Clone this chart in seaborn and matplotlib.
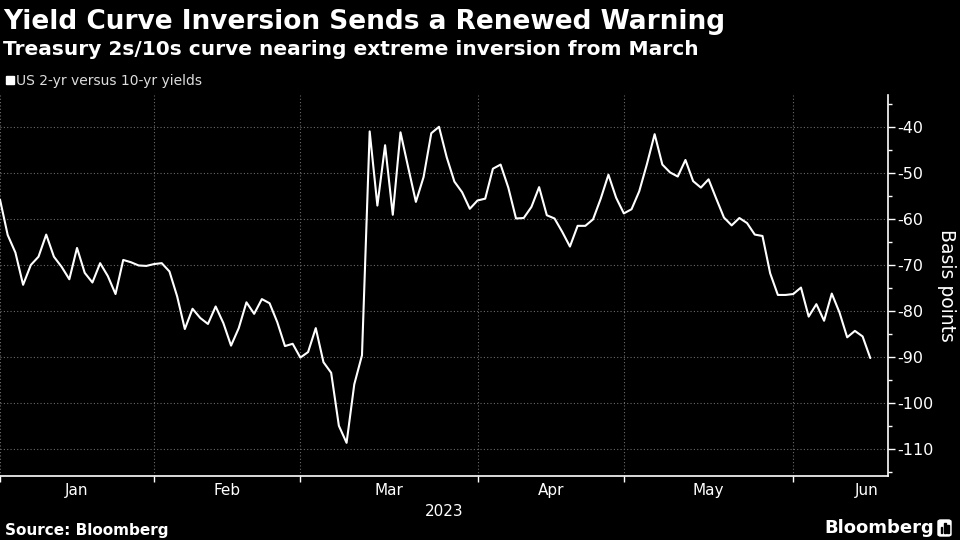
import matplotlib
matplotlib.use("Agg")
import matplotlib.pyplot as plt
from matplotlib.lines import Line2D
from matplotlib.patches import FancyBboxPatch, Rectangle
from matplotlib.ticker import MultipleLocator, FixedLocator, NullFormatter
import numpy as np
import pandas as pd
import seaborn as sns

# Datos: spread 2s/10s (pb), un valor por día hábil desde el 3 de enero de 2023
spread_bp = [
    # enero
    -55.8, -63.5, -67.3, -74.3, -70.0, -68.2, -63.4, -68.2, -70.4, -73.1,
    -66.3, -71.7, -73.8, -69.6, -72.4, -76.3, -68.9, -69.4, -70.1, -70.2,
    # febrero
    -69.8, -69.6, -71.4, -76.8, -83.9, -79.5, -81.5, -82.8, -79.0, -82.6,
    -87.5, -83.7, -78.1, -80.6, -77.4, -78.3, -82.4, -87.6, -87.1,
    # marzo
    -90.1, -88.9, -83.7, -91.1, -93.4, -104.9, -108.6, -95.9, -89.6, -41.0,
    -57.1, -44.0, -59.1, -41.2, -48.8, -56.3, -50.9, -41.4, -40.0, -46.6,
    -51.9, -54.2, -57.8,
    # abril
    -56.0, -55.6, -49.1, -48.2, -53.2, -59.9, -59.8, -57.4, -53.1, -59.2,
    -59.9, -62.8, -66.0, -61.5, -61.5, -60.1, -55.6, -50.4, -55.4,
    # mayo
    -58.8, -57.9, -54.0, -48.1, -41.6, -48.2, -49.9, -50.8, -47.2, -51.8,
    -53.2, -51.4, -55.6, -59.7, -61.4, -59.8, -60.9, -63.4, -63.7, -71.8,
    -76.5, -76.5,
    # junio
    -76.3, -74.9, -81.2, -78.5, -82.1, -76.2, -80.3, -85.7, -84.3, -85.5,
    -90.2,
]
holidays = ["2023-01-02", "2023-01-16", "2023-02-20", "2023-04-07",
            "2023-05-29", "2023-06-19"]
month_labels = ["Jan", "Feb", "Mar", "Apr", "May", "Jun"]
y_ticks = [-110, -100, -90, -80, -70, -60, -50, -40]

title = "Yield Curve Inversion Sends a Renewed Warning"
subtitle = "Treasury 2s/10s curve nearing extreme inversion from March"
series_name = "US 2-yr versus 10-yr yields"

# Días hábiles (eje x por índice de sesión, como en Bloomberg)
all_days = pd.bdate_range("2023-01-03", "2023-06-30", freq="C", holidays=holidays)
df = pd.DataFrame({"date": all_days[:len(spread_bp)], "bp": spread_bp})
df["pos"] = np.arange(len(df))

month_of_day = all_days.month
month_start = [int(np.argmax(month_of_day == m)) for m in range(1, 7)]
month_end = month_start[1:] + [len(all_days)]
month_mid = [(a + b) / 2 for a, b in zip(month_start, month_end)]
month_mid[-1] -= 1  # Bloomberg corre un poco la última etiqueta

## Estilo
sns.set_theme(style="dark", rc={
    "axes.facecolor": "black", "figure.facecolor": "black",
    "text.color": "white", "axes.labelcolor": "white",
    "xtick.color": "white", "ytick.color": "white",
})
plt.rcParams["font.family"] = ["DejaVu Sans"]

fig = plt.figure(figsize=(9.6, 5.4), dpi=100)
ax = fig.add_axes([0, 64 / 540, 888 / 960, 381 / 540])

sns.lineplot(data=df, x="pos", y="bp", ax=ax, color="white", linewidth=1.5)

ax.set_xlim(0, len(df) + 1.3)
ax.set_ylim(-115.8, -33.1)

# Eje y a la derecha
ax.yaxis.tick_right()
ax.yaxis.set_label_position("right")
ax.set_yticks(y_ticks)
ax.set_yticklabels([str(v) for v in y_ticks])
ax.yaxis.set_minor_locator(MultipleLocator(5))
ax.tick_params(axis="y", which="major", length=5, width=1, pad=2, labelsize=11.5,
               right=True, left=False)
ax.tick_params(axis="y", which="minor", length=3, width=1, right=True, left=False)
ax.set_ylabel("Basis points", fontsize=13.5, rotation=-90, labelpad=16)

# Eje x: ticks en el inicio de cada mes, etiquetas al centro
ax.xaxis.set_major_locator(FixedLocator(month_start))
ax.xaxis.set_major_formatter(NullFormatter())
ax.xaxis.set_minor_locator(FixedLocator(month_mid))
ax.set_xticklabels(month_labels, minor=True)
ax.tick_params(axis="x", which="major", length=4, width=1, bottom=True)
ax.tick_params(axis="x", which="minor", length=0, pad=5, labelsize=11)
ax.set_xlabel("2023", fontsize=11, labelpad=4)

ax.grid(True, which="major", color="#6a6a6a", linestyle=(0, (1, 2)), linewidth=0.8)
ax.grid(False, which="minor")

for side in ["top", "left"]:
    ax.spines[side].set_visible(False)
for side in ["bottom", "right"]:
    ax.spines[side].set_visible(True)
    ax.spines[side].set_color("white")
    ax.spines[side].set_linewidth(1.2)

# Títulos
fig.text(3 / 960, 1 - 29 / 540, title, fontsize=19, fontweight="bold",
         color="white", va="baseline", ha="left")
fig.text(3 / 960, 1 - 55 / 540, subtitle, fontsize=14.5, fontweight="bold",
         color="white", va="baseline", ha="left")

# Leyenda
handle = Line2D([], [], marker="s", linestyle="none", color="white", markersize=5.5)
fig.legend([handle], [series_name], loc="center left",
           bbox_to_anchor=(-6 / 960, 1 - 81 / 540), frameon=False,
           handlelength=0.5, handletextpad=0.2, fontsize=10, labelcolor="#dddddd")

# Pie
fig.text(5 / 960, 1 - 530 / 540, "Source: Bloomberg", fontsize=11, fontweight="bold",
         color="white", va="center", ha="left")
fig.text(934 / 960, 1 - 528 / 540, "Bloomberg", fontsize=13, fontweight="bold",
         color="white", va="center", ha="right")
fig.patches.append(FancyBboxPatch((938 / 960, 1 - 536 / 540), 13 / 960, 16 / 540,
                                  boxstyle="round,pad=0,rounding_size=0.003",
                                  transform=fig.transFigure, color="white"))
for i, h in enumerate([6, 10, 8]):
    fig.patches.append(Rectangle(((940.5 + i * 3.3) / 960, 1 - 533 / 540), 1.8 / 960, h / 540,
                                 transform=fig.transFigure, color="black"))

fig.savefig("out.png", dpi=100, facecolor="black")
